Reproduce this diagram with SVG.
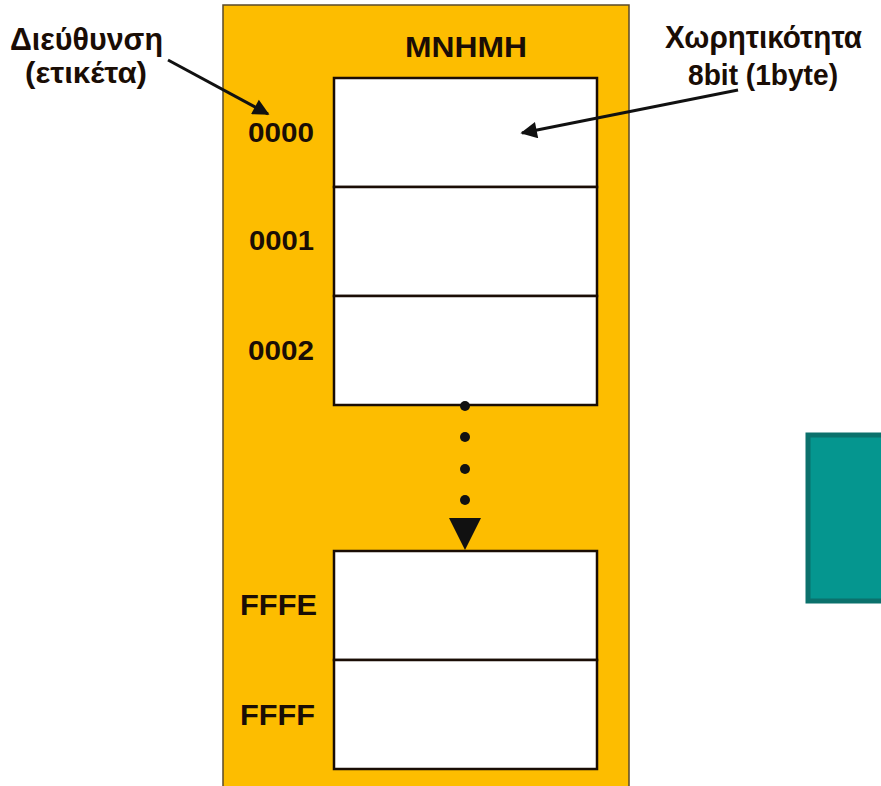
<svg xmlns="http://www.w3.org/2000/svg" width="881" height="786" viewBox="0 0 881 786">
<style>
text{font-family:"Liberation Sans",Arial,sans-serif;font-weight:bold;font-size:30px;fill:#1a0d05}
.c{text-anchor:middle}
.cell{fill:#fff;stroke:#1a0d05;stroke-width:2.5}
.conn{stroke:#111;stroke-width:3;fill:none}
.dot{fill:#111}
</style>
<defs>
<marker id="ah" viewBox="0 0 10 10" refX="9" refY="5" markerWidth="6.5" markerHeight="5.5" orient="auto" markerUnits="strokeWidth">
<path d="M0,0 L10,5 L0,10 z" fill="#111"/>
</marker>
</defs>
<rect width="881" height="786" fill="#fff"/>
<g id="memory">
<rect x="223" y="5" width="406" height="790" fill="#fdbd00" stroke="#5a4a2a" stroke-width="1.5"/>
<text class="c" x="466" y="57" textLength="122" lengthAdjust="spacingAndGlyphs" style="font-size:29px">ΜΝΗΜΗ</text>
</g>
<g id="cell0000"><rect class="cell" x="334" y="78" width="263" height="109"/><text x="248" y="142" textLength="66" lengthAdjust="spacingAndGlyphs" style="font-size:28px">0000</text></g>
<g id="cell0001"><rect class="cell" x="334" y="187" width="263" height="109"/><text x="249" y="250" textLength="65" lengthAdjust="spacingAndGlyphs" style="font-size:28px">0001</text></g>
<g id="cell0002"><rect class="cell" x="334" y="296" width="263" height="109"/><text x="248" y="360" textLength="66" lengthAdjust="spacingAndGlyphs" style="font-size:28px">0002</text></g>
<g id="cellFFFE"><rect class="cell" x="334" y="551" width="263" height="109"/><text x="240" y="615" textLength="77" lengthAdjust="spacingAndGlyphs">FFFE</text></g>
<g id="cellFFFF"><rect class="cell" x="334" y="660" width="263" height="109"/><text x="240" y="725" textLength="75" lengthAdjust="spacingAndGlyphs">FFFF</text></g>
<g id="address">
<text x="10" y="50" textLength="153" lengthAdjust="spacingAndGlyphs" style="font-size:31px">Διεύθυνση</text>
<text x="25" y="83" textLength="122" lengthAdjust="spacingAndGlyphs" style="font-size:30px">(ετικέτα)</text>
</g>
<g id="capacity">
<text x="665" y="48" textLength="197" lengthAdjust="spacingAndGlyphs" style="font-size:31px">Χωρητικότητα</text>
<text x="688" y="85" textLength="150" lengthAdjust="spacingAndGlyphs" style="font-size:30px">8bit (1byte)</text>
</g>
<g id="teal"><rect x="808" y="435" width="80" height="166" fill="#05968f" stroke="#0b716c" stroke-width="5"/></g>
<g id="connectors">
<line class="conn" x1="168" y1="60" x2="268" y2="114" marker-end="url(#ah)"/>
<line class="conn" x1="738" y1="90" x2="522" y2="133" marker-end="url(#ah)"/>
<circle class="dot" cx="465" cy="406" r="5"/>
<circle class="dot" cx="465" cy="437" r="5"/>
<circle class="dot" cx="465" cy="469" r="5"/>
<circle class="dot" cx="465" cy="500" r="5"/>
<path d="M449,518 L481,518 L465,550 z" fill="#111"/>
</g>
</svg>
